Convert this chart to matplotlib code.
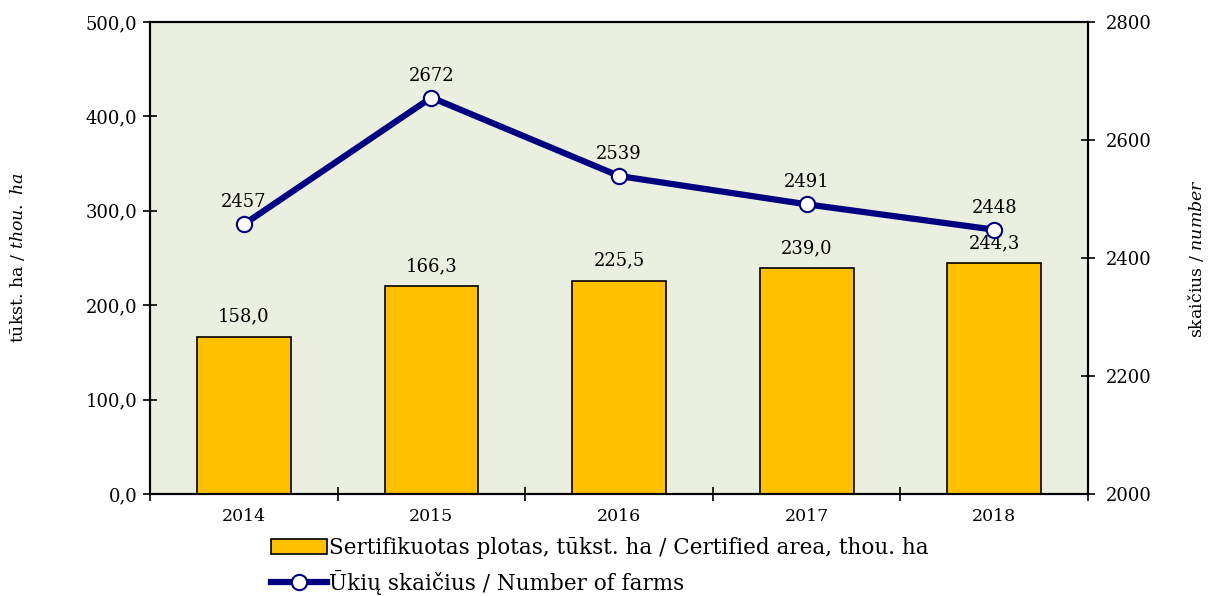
import matplotlib
matplotlib.use("Agg")
import matplotlib.pyplot as plt
import numpy as np
from matplotlib.patches import Patch
from matplotlib.lines import Line2D

years = ["2014", "2015", "2016", "2017", "2018"]
area_values = [166.3, 220.0, 225.5, 239.0, 244.3]
area_labels = ["158,0", "166,3", "225,5", "239,0", "244,3"]
farms = [2457, 2672, 2539, 2491, 2448]
left_ticks = [0, 100, 200, 300, 400, 500]
left_ticklabels = ["0,0", "100,0", "200,0", "300,0", "400,0", "500,0"]
right_ticks = [2000, 2200, 2400, 2600, 2800]

FONT = "DejaVu Serif"
plt.rcParams["font.family"] = FONT
plt.rcParams["mathtext.fontset"] = "custom"
plt.rcParams["mathtext.rm"] = FONT
plt.rcParams["mathtext.it"] = FONT + ":italic"

W, H = 1208, 596
fig = plt.figure(figsize=(W/100, H/100), dpi=100)
ax = fig.add_axes([150/W, 1-494/H, (1088-150)/W, (494-22)/H])
ax.set_facecolor("#EBEFDF")
x = np.arange(len(years))
ax.bar(x, area_values, width=0.5, color="#FFC000", edgecolor="black", linewidth=1.2, zorder=2)
for xi, v, lab in zip(x, area_values, area_labels):
    ax.text(xi, v + 12, lab, ha="center", va="bottom", fontsize=13)
ax.set_xlim(-0.5, len(years) - 0.5)
ax.set_ylim(0, 500)
ax.set_yticks(left_ticks)
ax.set_yticklabels(left_ticklabels, fontsize=13)
ax.set_xticks(x)
ax.set_xticklabels(years, fontsize=12.5)
ax.tick_params(axis="x", length=0, pad=10)
ax.set_xticks(np.arange(-0.5, len(years)), minor=True)
ax.tick_params(axis="x", which="minor", direction="inout", length=10, width=1.2)
ax.tick_params(axis="y", direction="inout", length=10, width=1.2, pad=4)
for s in ax.spines.values():
    s.set_linewidth(1.5)

ax2 = ax.twinx()
ax2.plot(x, farms, color="#000080", linewidth=4.5, marker="o", markersize=11,
         markerfacecolor="white", markeredgecolor="#000080", markeredgewidth=1.5, zorder=3)
for xi, v in zip(x, farms):
    ax2.text(xi, v + 22, str(v), ha="center", va="bottom", fontsize=13)
ax2.set_ylim(2000, 2800)
ax2.set_yticks(right_ticks)
ax2.set_yticklabels([str(t) for t in right_ticks], fontsize=13)
ax2.tick_params(axis="y", direction="inout", length=10, width=1.2, pad=8)
for s in ax2.spines.values():
    s.set_linewidth(1.5)

fig.text(18/W, 1-258/H, "tūkst. ha / $\\mathit{thou.\\ ha}$", rotation=90,
         ha="center", va="center", fontsize=12.5)
fig.text(1196/W, 1-258/H, "skaičius / $\\mathit{number}$", rotation=90,
         ha="center", va="center", fontsize=12.5)

handles = [Patch(facecolor="#FFC000", edgecolor="black", linewidth=1.2),
           Line2D([0], [0], color="#000080", linewidth=4.5, marker="o", markersize=11,
                  markerfacecolor="white", markeredgecolor="#000080", markeredgewidth=1.5)]
labels = ["Sertifikuotas plotas, tūkst. ha / Certified area, thou. ha",
          "Ūkių skaičius / Number of farms"]
fig.legend(handles, labels, loc="upper left", bbox_to_anchor=(271/W, 1-537/H),
           frameon=False, fontsize=15.5, handlelength=2.6, handletextpad=0.1,
           labelspacing=0.5, borderaxespad=0, borderpad=0)

fig.savefig("out.png", dpi=100)
